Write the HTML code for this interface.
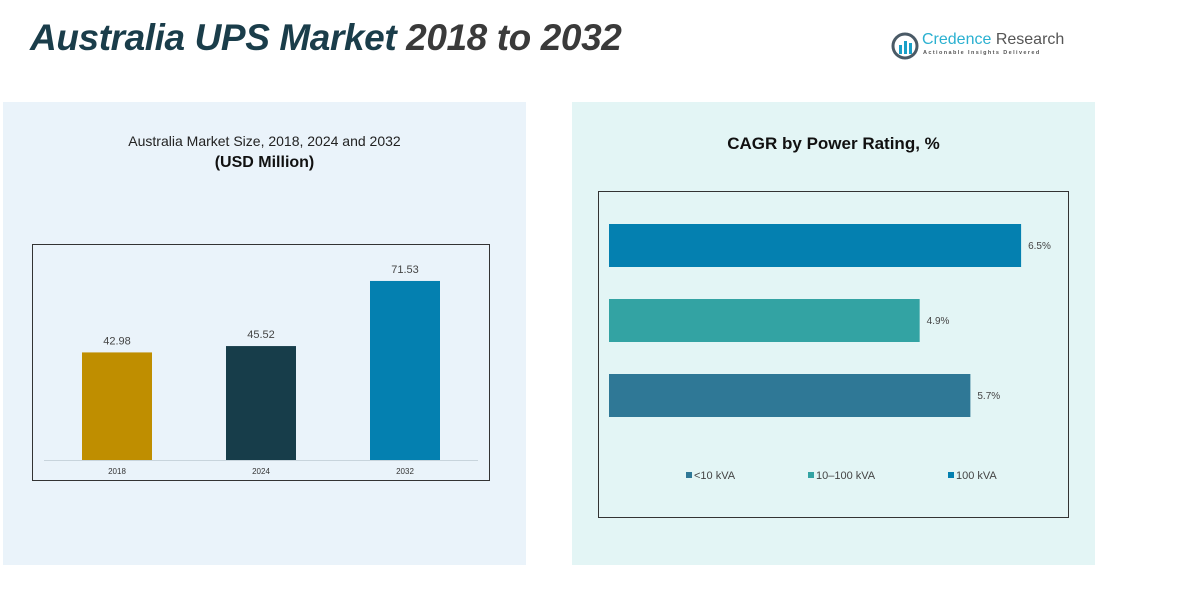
<!DOCTYPE html>
<html><head><meta charset="utf-8"><style>
body{margin:0;width:1187px;height:591px;background:#fff;position:relative;overflow:hidden;font-family:"Liberation Sans",sans-serif}
.abs{position:absolute}
</style></head><body>
<div class="abs" style="left:30px;top:17px;font-size:37px;font-weight:bold;font-style:italic;color:#1a3d4a;letter-spacing:-0.4px">Australia UPS Market <span style="color:#3a3a3a">2018 to 2032</span></div>
<div class="abs" style="left:891px;top:30px;width:180px;height:32px">
<svg width="28" height="28" style="position:absolute;left:0;top:2px"><circle cx="14" cy="14" r="12" fill="none" stroke="#4a5a66" stroke-width="3"/><rect x="8" y="13" width="3" height="9" fill="#1aa0c8"/><rect x="13" y="9" width="3" height="13" fill="#1aa0c8"/><rect x="18" y="11" width="3" height="11" fill="#1aa0c8"/></svg>
<div class="abs" style="left:31px;top:1px;font-size:16px;color:#2ab0d0;white-space:nowrap">Credence <span style="color:#555">Research</span></div>
<div class="abs" style="left:32px;top:20px;font-size:5.5px;letter-spacing:1.4px;color:#555;white-space:nowrap;font-weight:bold">Actionable Insights Delivered</div>
</div>
<div class="abs" style="left:3px;top:102px;width:523px;height:463px;background:#eaf3fa"></div>
<div class="abs" style="left:572px;top:102px;width:523px;height:463px;background:#e3f5f5"></div>
<div class="abs" style="left:3px;width:523px;top:133px;text-align:center;font-size:14px;color:#222">Australia Market Size, 2018, 2024 and 2032</div>
<div class="abs" style="left:3px;width:523px;top:154px;text-align:center;font-size:16px;font-weight:bold;color:#111">(USD Million)</div>
<div class="abs" style="left:572px;width:523px;top:134px;text-align:center;font-size:17px;font-weight:bold;color:#111">CAGR by Power Rating, %</div>
<svg id="svg" class="abs" style="left:0;top:0" width="1187" height="591"></svg>
<script>
const years=["2018","2024","2032"];
const sizes=[42.98,45.52,71.53];
const sizeColors=["#bf8e00","#173d4a","#0480b0"];
const segs=["6.5%","4.9%","5.7%"];
const cagr=[6.5,4.9,5.7];
const cagrColors=["#0480b0","#33a3a3","#2f7896"];
const legendNames=["<10 kVA","10–100 kVA","100 kVA"];
const legendColors=["#2f7896","#33a3a3","#0480b0"];
const NS="http://www.w3.org/2000/svg";
const svg=document.getElementById('svg');
function mk(t,a,txt){const e=document.createElementNS(NS,t);for(const k in a)e.setAttribute(k,a[k]);if(txt!=null)e.textContent=txt;svg.appendChild(e);return e;}
let b=mk('rect',{x:32.5,y:244.5,width:457,height:236,fill:'none',stroke:'#333','stroke-width':1});


const base=460, ys=v=>base-v*2.503;
let ax=mk('line',{x1:44,x2:478,y1:460.5,y2:460.5,stroke:'#c8d4dc'});


years.forEach((y,i)=>{const cx=117+i*144;
 const r=mk('rect',{x:cx-35,y:ys(sizes[i]),width:70,height:base-ys(sizes[i]),fill:sizeColors[i]});
 
 
 const l=mk('text',{x:cx,y:ys(sizes[i])-8,'text-anchor':'middle','font-size':11,fill:'#444'},sizes[i].toFixed(2));
 
 
 const t=mk('text',{x:cx,y:474,'text-anchor':'middle','font-size':8,fill:'#333'},y);
 
 
});
let b2=mk('rect',{x:598.5,y:191.5,width:470,height:326,fill:'none',stroke:'#333','stroke-width':1});


const x0=609, xs=v=>v*63.4;
cagr.forEach((v,i)=>{const y=224+i*75;
 const r=mk('rect',{x:x0,y:y,width:xs(v),height:43,fill:cagrColors[i]});
 
 
 const l=mk('text',{x:x0+xs(v)+7,y:y+25,'font-size':10,fill:'#444'},segs[i]);
 
 
});
const legendX=[686,808,948];
legendNames.forEach((n,i)=>{const lx=legendX[i];
 const s=mk('rect',{x:lx,y:472,width:6,height:6,fill:legendColors[i]});
 
 
 const t=mk('text',{x:lx+8,y:479,'font-size':11,fill:'#444'},n);
 
 
});
</script>
</body></html>
